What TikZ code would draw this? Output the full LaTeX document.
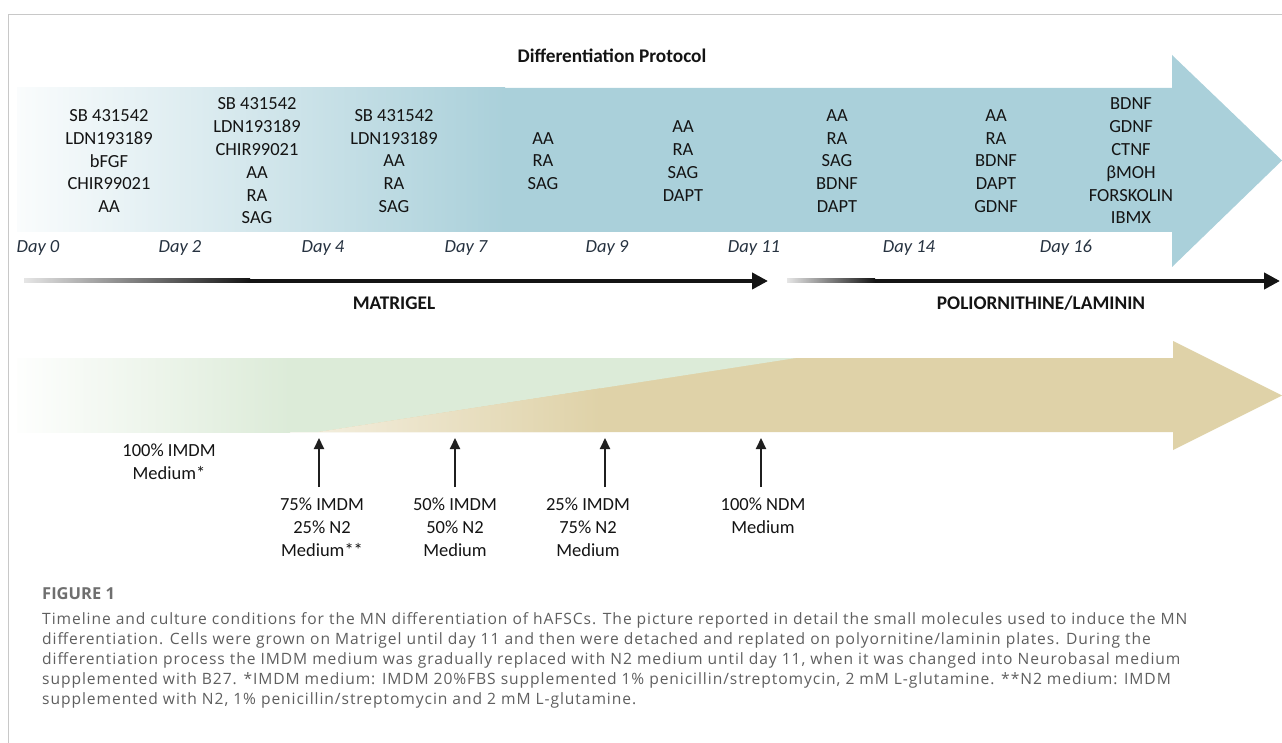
\documentclass[tikz,border=0pt]{standalone}
\usepackage{fontspec}
\setmainfont{Carlito}
\newfontfamily\capfont[LetterSpace=6]{Open Sans}
\newfontfamily\capbold{Open Sans}
\usetikzlibrary{arrows.meta,calc}
\definecolor{blueA}{RGB}{170,208,218}
\definecolor{tanA}{RGB}{223,210,168}
\definecolor{greenA}{RGB}{220,235,216}
\definecolor{frameG}{RGB}{200,200,200}
\definecolor{txt}{RGB}{20,20,20}
\definecolor{dayC}{RGB}{38,50,64}
\definecolor{capC}{RGB}{95,95,95}
\begin{document}
\begin{tikzpicture}[x=1pt,y=-1pt,
  lbl/.style={align=center, font=\fontsize{18.5}{22.8}\selectfont, text=txt, inner sep=0pt},
  daylbl/.style={font=\fontsize{18.5}{22}\selectfont\itshape, text=dayC, inner sep=0pt},
  boldlbl/.style={font=\fontsize{19.3}{22}\selectfont\bfseries, text=txt, inner sep=0pt},
  caplbl/.style={anchor=base west, inner sep=0pt, font=\capfont\fontsize{15.6}{19.5}\selectfont, text=capC},
  uparrow/.style={line width=2pt, draw=black!88, -{Triangle[length=11pt,width=10pt]}},
  bararrow/.style={line width=4pt, draw=black!92, -{Triangle[length=16pt,width=16pt]}},
]
\useasboundingbox (0,0) rectangle (1282,743);
\fill[white] (0,0) rectangle (1282,743);
% frame
\draw[frameG, line width=1.3pt] (8.5,743) -- (8.5,14.5) -- (1282,14.5);

% title
\node[boldlbl] (title) at (612,56) {Differentiation Protocol};

% blue arrow
\fill[blueA] (17,88) -- (1172,88) -- (1172,55) -- (1282,160.5) -- (1172,267) -- (1172,232) -- (17,232) -- cycle;
\begin{scope}
\clip (17,88) rectangle (505,232);
\shade[left color=blueA!6!white, right color=blueA] (17,80) rectangle (505,240);
\end{scope}

% molecule columns
\node[lbl] (c1) at (109,161) {SB 431542\\LDN193189\\bFGF\\CHIR99021\\AA};
\node[lbl] (c2) at (257,161) {SB 431542\\LDN193189\\CHIR99021\\AA\\RA\\SAG};
\node[lbl] (c3) at (394,161) {SB 431542\\LDN193189\\AA\\RA\\SAG};
\node[lbl] (c4) at (543,161) {AA\\RA\\SAG};
\node[lbl] (c5) at (683,161) {AA\\RA\\SAG\\DAPT};
\node[lbl] (c6) at (837,161) {AA\\RA\\SAG\\BDNF\\DAPT};
\node[lbl] (c7) at (996,161) {AA\\RA\\BDNF\\DAPT\\GDNF};
\node[lbl] (c8) at (1131,161) {BDNF\\GDNF\\CTNF\\βMOH\\FORSKOLIN\\IBMX};

% days
\node[daylbl] (d0) at (38,248) {Day 0};
\node[daylbl] (d2) at (180,248) {Day 2};
\node[daylbl] (d4) at (323,248) {Day 4};
\node[daylbl] (d7) at (466,248) {Day 7};
\node[daylbl] (d9) at (607,248) {Day 9};
\node[daylbl] (d11) at (754,248) {Day 11};
\node[daylbl] (d14) at (909,248) {Day 14};
\node[daylbl] (d16) at (1066,248) {Day 16};

% substrate arrows
\coordinate (m0) at (24,281);
\coordinate (mg) at (250,281);
\coordinate (m1) at (768,281);
\coordinate (p0) at (787,281);
\coordinate (pg) at (875,281);
\coordinate (p1) at (1280,281);
\shade[left color=black!10, right color=black!92] ($(m0)+(0,-2)$) rectangle ($(mg)+(0,2)$);
\draw[bararrow] (mg) -- (m1);
\shade[left color=black!10, right color=black!92] ($(p0)+(0,-2)$) rectangle ($(pg)+(0,2)$);
\draw[bararrow] (pg) -- (p1);
\node[boldlbl] (mat) at (394,303) {MATRIGEL};
\node[boldlbl] (pol) at (1041,303) {POLIORNITHINE/LAMININ};

% medium arrow
\fill[tanA] (17,358) -- (1173,358) -- (1173,341) -- (1282,395.5) -- (1173,450) -- (1173,432) -- (17,432) -- cycle;
\fill[greenA] (17,358) -- (796,358) -- (318,432) -- (17,432) -- cycle;
\begin{scope}
\clip (17,358) rectangle (290,432);
\shade[left color=greenA!4!white, right color=greenA] (17,350) rectangle (290,440);
\end{scope}
\begin{scope}
\clip (318,432) -- (796,358) -- (796,432) -- cycle;
\shade[left color=tanA!40!white, right color=tanA] (318,350) rectangle (600,440);
\end{scope}

% medium labels
\node[lbl] (i100) at (169,462) {100\% IMDM\\Medium*};
\node[lbl] (i75) at (322,527) {75\% IMDM\\25\% N2\\Medium**};
\node[lbl] (i50) at (455,527) {50\% IMDM\\50\% N2\\Medium};
\node[lbl] (i25) at (588,527) {25\% IMDM\\75\% N2\\Medium};
\node[lbl] (n100) at (763,515.5) {100\% NDM\\Medium};

% up arrows
\coordinate (t1) at (319,487); \coordinate (h1) at (319,438);
\coordinate (t2) at (455,487); \coordinate (h2) at (455,438);
\coordinate (t3) at (605,487); \coordinate (h3) at (605,438);
\coordinate (t4) at (761,487); \coordinate (h4) at (761,438);
\draw[uparrow] (t1) -- (h1);
\draw[uparrow] (t2) -- (h2);
\draw[uparrow] (t3) -- (h3);
\draw[uparrow] (t4) -- (h4);

% caption
\node[anchor=base west, inner sep=0pt, font=\capbold\bfseries\fontsize{16.5}{19}\selectfont, text=capC!90] (fig) at (42,599) {FIGURE 1};
\node[caplbl] (cap1) at (42,624) {Timeline and culture conditions for the MN differentiation of hAFSCs. The picture reported in detail the small molecules used to induce the MN};
\node[caplbl] (cap2) at (42,644) {differentiation. Cells were grown on Matrigel until day 11 and then were detached and replated on polyornitine/laminin plates. During the};
\node[caplbl] (cap3) at (42,664) {differentiation process the IMDM medium was gradually replaced with N2 medium until day 11, when it was changed into Neurobasal medium};
\node[caplbl] (cap4) at (42,684) {supplemented with B27. *IMDM medium: IMDM 20\%FBS supplemented 1\% penicillin/streptomycin, 2 mM L-glutamine. **N2 medium: IMDM};
\node[caplbl] (cap5) at (42,704) {supplemented with N2, 1\% penicillin/streptomycin and 2 mM L-glutamine.};
\end{tikzpicture}
\end{document}
